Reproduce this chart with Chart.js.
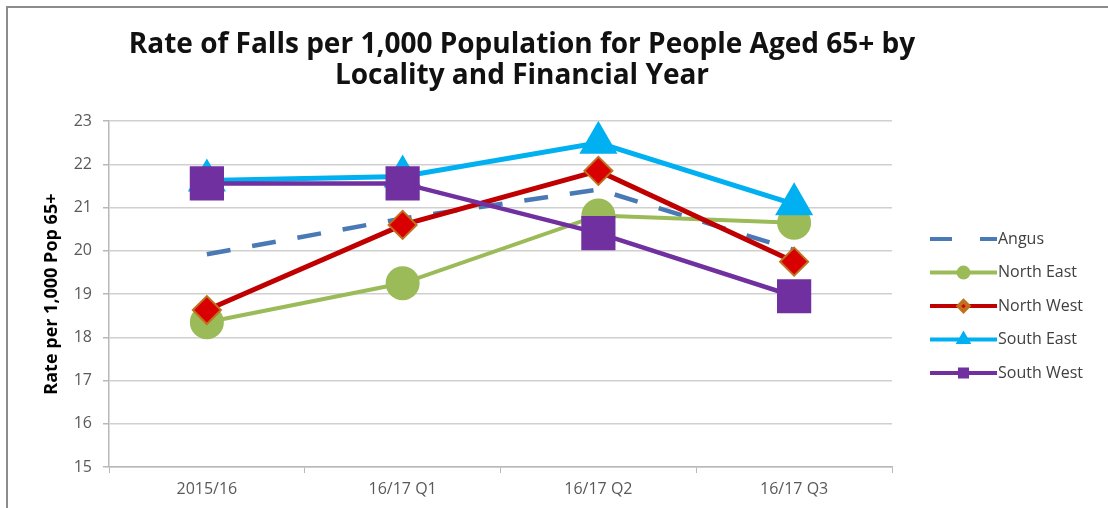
<!DOCTYPE html>
<html>
<head>
<meta charset="utf-8">
<script src="https://cdn.jsdelivr.net/npm/chart.js@4.4.1/dist/chart.umd.min.js"></script>
<style>
    html, body { margin: 0; padding: 0; background: #fff; overflow: hidden; }
    #wrap { position: relative; width: 1108px; height: 508px; overflow: hidden; }
    #frame {
        position: absolute; left: 6px; top: 6px; right: -10px; bottom: -10px;
        border-left: 2px solid #8c8c8c; border-top: 2px solid #8c8c8c;
        pointer-events: none;
    }
</style>
</head>
<body>
<div id="wrap">
    <canvas id="grafico" width="1108" height="508"></canvas>
    <div id="frame"></div>
</div>
<script>
const periodos = ['2015/16', '16/17 Q1', '16/17 Q2', '16/17 Q3'];

const angus     = [19.92, 20.75, 21.42, 20.02];
const northEast = [18.35, 19.25, 20.82, 20.65];
const northWest = [18.63, 20.60, 21.85, 19.75];
const southEast = [21.63, 21.72, 22.50, 21.08];
const southWest = [21.56, 21.56, 20.41, 18.95];

const ejeY = { min: 15, max: 23, paso: 1 };

const fuente = 'Open Sans';

// legend drawn in its own layout box on the right
const leyendaLateral = {
    id: 'leyendaLateral',
    beforeInit(chart) {
        const box = {
            position: 'right', weight: 1000, fullSize: false, options: {},
            left: 0, top: 0, right: 0, bottom: 0, width: 0, height: 0,
            isHorizontal() { return false; },
            update(maxWidth, maxHeight) { this.width = 132; this.height = maxHeight; },
            draw() { dibujarLeyenda(chart, this); }
        };
        Chart.layouts.addBox(chart, box);
    }
};

function dibujarLeyenda(chart, box) {
    const ctx = chart.ctx;
    const sets = chart.data.datasets;
    const paso = 33.5;
    const x0 = box.left + 38;
    const largo = 67;
    let y = (box.top + box.bottom) / 2 + 12 - paso * (sets.length - 1) / 2;

    sets.forEach(ds => {
        ctx.save();
        ctx.strokeStyle = ds.borderColor;
        ctx.lineWidth = 4;
        ctx.lineCap = 'butt';
        ctx.setLineDash(ds.borderDash ? [22, 28] : []);
        ctx.beginPath();
        ctx.moveTo(x0, y);
        ctx.lineTo(x0 + largo, y);
        ctx.stroke();
        ctx.setLineDash([]);
        if (ds.pointRadius > 0) {
            ctx.fillStyle = ds.pointBackgroundColor;
            ctx.strokeStyle = ds.pointBorderColor;
            Chart.helpers.drawPoint(ctx, {
                pointStyle: ds.pointStyle, radius: 5, borderWidth: 1, rotation: 0
            }, x0 + largo / 2, y);
        }
        ctx.fillStyle = '#404040';
        ctx.font = '16px "' + fuente + '"';
        ctx.textAlign = 'left';
        ctx.textBaseline = 'middle';
        ctx.fillText(ds.label, x0 + largo + 1, y);
        ctx.restore();
        y += paso;
    });
}

window.onload = function () {
    const ctx = document.getElementById('grafico').getContext('2d');

    new Chart(ctx, {
        type: 'line',
        data: {
            labels: periodos,
            datasets: [
                {
                    label: 'Angus', data: angus, order: 5,
                    borderColor: '#4a7ab5', borderWidth: 4.5, borderDash: [24, 22],
                    pointRadius: 0, fill: false, tension: 0
                },
                {
                    label: 'North East', data: northEast, order: 4,
                    borderColor: '#9bbb59', borderWidth: 4,
                    pointStyle: 'circle', pointRadius: 15,
                    pointBackgroundColor: '#9bbb59', pointBorderColor: '#9bbb59',
                    fill: false, tension: 0
                },
                {
                    label: 'North West', data: northWest, order: 3,
                    borderColor: '#c00000', borderWidth: 5,
                    pointStyle: 'rectRot', pointRadius: 14, pointBorderWidth: 2,
                    pointBackgroundColor: '#d80000', pointBorderColor: '#c0701e',
                    fill: false, tension: 0
                },
                {
                    label: 'South East', data: southEast, order: 2,
                    borderColor: '#00b0f0', borderWidth: 5,
                    pointStyle: 'triangle', pointRadius: 17,
                    pointBackgroundColor: '#00b0f0', pointBorderColor: '#00b0f0',
                    fill: false, tension: 0
                },
                {
                    label: 'South West', data: southWest, order: 1,
                    borderColor: '#7030a0', borderWidth: 4.5,
                    pointStyle: 'rect', pointRadius: 21,
                    pointBackgroundColor: '#7030a0', pointBorderColor: '#7030a0',
                    fill: false, tension: 0
                }
            ]
        },
        options: {
            responsive: false,
            animation: false,
            devicePixelRatio: 1,
            layout: { padding: { left: 20, right: 84, top: 8, bottom: 6 } },
            plugins: {
                legend: { display: false },
                tooltip: { enabled: false },
                title: {
                    display: true,
                    text: ['Rate of Falls per 1,000 Population for People Aged 65+ by',
                           'Locality and Financial Year'],
                    color: '#111',
                    font: { family: fuente, size: 28, weight: 'bold', lineHeight: 1.11 },
                    padding: { top: 21, bottom: 30 }
                }
            },
            scales: {
                x: {
                    offset: true,
                    grid: { offset: true, drawOnChartArea: false, tickLength: 6, color: '#b8b8b8' },
                    border: { color: '#b8b8b8', width: 1.5 },
                    ticks: { color: '#595959', padding: 7, font: { family: fuente, size: 16 } },
                    afterFit(scale) { scale.height = 35; }
                },
                y: {
                    min: ejeY.min,
                    max: ejeY.max,
                    grid: { color: '#d0d0d0', lineWidth: 1.5, tickLength: 6, tickColor: '#b8b8b8' },
                    border: { color: '#b8b8b8', width: 1.5 },
                    ticks: {
                        stepSize: ejeY.paso, color: '#595959', padding: 11,
                        font: { family: fuente, size: 16 }
                    },
                    title: {
                        display: true,
                        text: 'Rate per 1,000 Pop 65+',
                        color: '#000',
                        font: { family: fuente, size: 18, weight: 'bold', lineHeight: 1.2 },
                        padding: { top: 21, bottom: 0 }
                    },
                    afterFit(scale) { scale.width = 89; }
                }
            }
        },
        plugins: [leyendaLateral]
    });
};
</script>
</body>
</html>
